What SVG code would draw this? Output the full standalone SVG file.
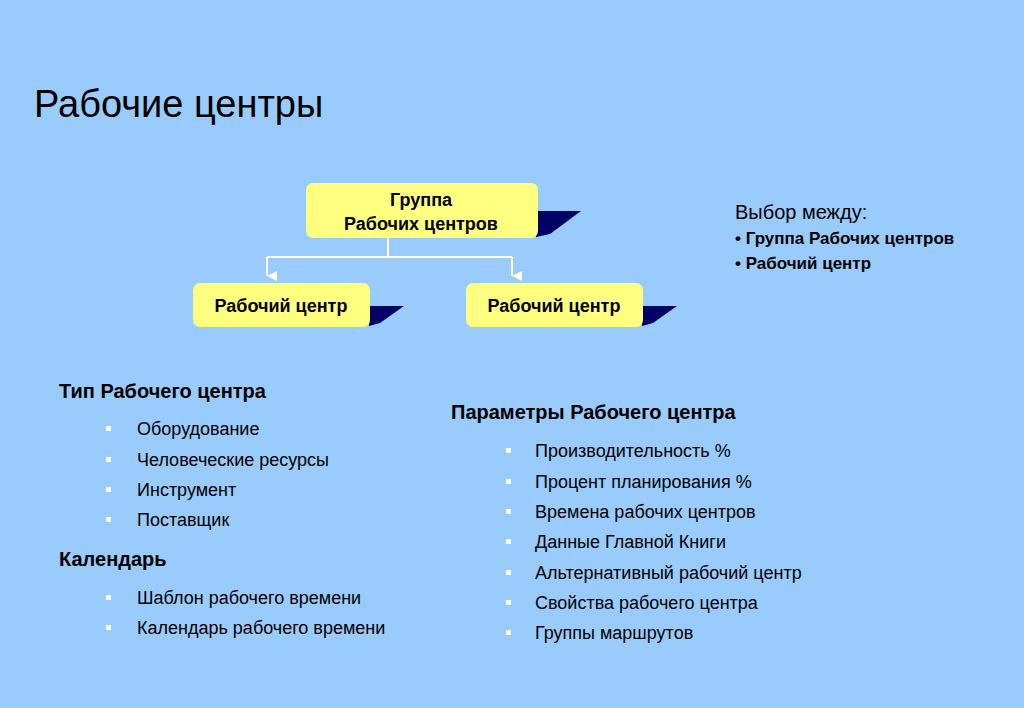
<svg xmlns="http://www.w3.org/2000/svg" width="1024" height="708" viewBox="0 0 1024 708">
<defs>
<marker id="ah" viewBox="0 0 10 10" refX="5" refY="10" markerWidth="10" markerHeight="10" markerUnits="userSpaceOnUse" orient="auto-start-reverse"><path d="M0,0 L10,0 L5,10 Z" fill="#fff"/></marker>
</defs>
<style>
text{font-family:"Liberation Sans",Arial,sans-serif;fill:#000}
.box{fill:#ffff80;stroke:none}
.sh{fill:#000066}
.bt{font-weight:bold;font-size:18px;text-anchor:middle}
.h{font-weight:bold;font-size:20px}
.it{font-size:18px}
.bul{fill:#fff}
.con{stroke:#fff;stroke-width:2;fill:none}
</style>
<rect width="1024" height="708" fill="#99ccfc"/>
<text x="34" y="117" font-size="38">Рабочие центры</text>
<g id="connectors">
<path class="con" d="M388,238 V257 M267,257 H512"/>
<path class="con" d="M267,257 V276" marker-end="url(#ah)"/>
<path class="con" d="M512,257 V276" marker-end="url(#ah)"/>
</g>
<g id="group">
<path class="sh" d="M536,211 L581,211 L550,234 L536,237 Z"/>
<rect class="box" x="306" y="183" width="232" height="55" rx="7"/>
<text class="bt" x="421" y="206">Группа</text>
<text class="bt" x="421" y="230">Рабочих центров</text>
</g>
<g id="wc1">
<path class="sh" d="M369,306 L404,306 L380,323 L369,326 Z"/>
<rect class="box" x="193" y="283" width="177" height="44" rx="7"/>
<text class="bt" x="281" y="312">Рабочий центр</text>
</g>
<g id="wc2">
<path class="sh" d="M642,306 L677,306 L653,323 L642,326 Z"/>
<rect class="box" x="466" y="283" width="177" height="44" rx="7"/>
<text class="bt" x="554" y="312">Рабочий центр</text>
</g>
<text x="735" y="219" font-size="20">Выбор между:</text>
<text x="735" y="244" font-size="17" font-weight="bold" fill="#111">• Группа Рабочих центров</text>
<text x="735" y="269" font-size="17" font-weight="bold">• Рабочий центр</text>
<text class="h" x="59" y="398">Тип Рабочего центра</text>
<text class="h" x="59" y="566">Календарь</text>
<text class="h" x="451" y="419">Параметры Рабочего центра</text>
<g>
<rect class="bul" x="106" y="426" width="5" height="5"/><text class="it" x="137" y="435">Оборудование</text>
<rect class="bul" x="106" y="457" width="5" height="5"/><text class="it" x="137" y="466">Человеческие ресурсы</text>
<rect class="bul" x="106" y="487" width="5" height="5"/><text class="it" x="137" y="496">Инструмент</text>
<rect class="bul" x="106" y="517" width="5" height="5"/><text class="it" x="137" y="526">Поставщик</text>
<rect class="bul" x="106" y="595" width="5" height="5"/><text class="it" x="137" y="604">Шаблон рабочего времени</text>
<rect class="bul" x="106" y="625" width="5" height="5"/><text class="it" x="137" y="634">Календарь рабочего времени</text>
<rect class="bul" x="506" y="448" width="5" height="5"/><text class="it" x="535" y="457">Производительность %</text>
<rect class="bul" x="506" y="479" width="5" height="5"/><text class="it" x="535" y="488">Процент планирования %</text>
<rect class="bul" x="506" y="509" width="5" height="5"/><text class="it" x="535" y="518">Времена рабочих центров</text>
<rect class="bul" x="506" y="539" width="5" height="5"/><text class="it" x="535" y="548">Данные Главной Книги</text>
<rect class="bul" x="506" y="570" width="5" height="5"/><text class="it" x="535" y="579">Альтернативный рабочий центр</text>
<rect class="bul" x="506" y="600" width="5" height="5"/><text class="it" x="535" y="609">Свойства рабочего центра</text>
<rect class="bul" x="506" y="630" width="5" height="5"/><text class="it" x="535" y="639">Группы маршрутов</text>
</g>
</svg>
